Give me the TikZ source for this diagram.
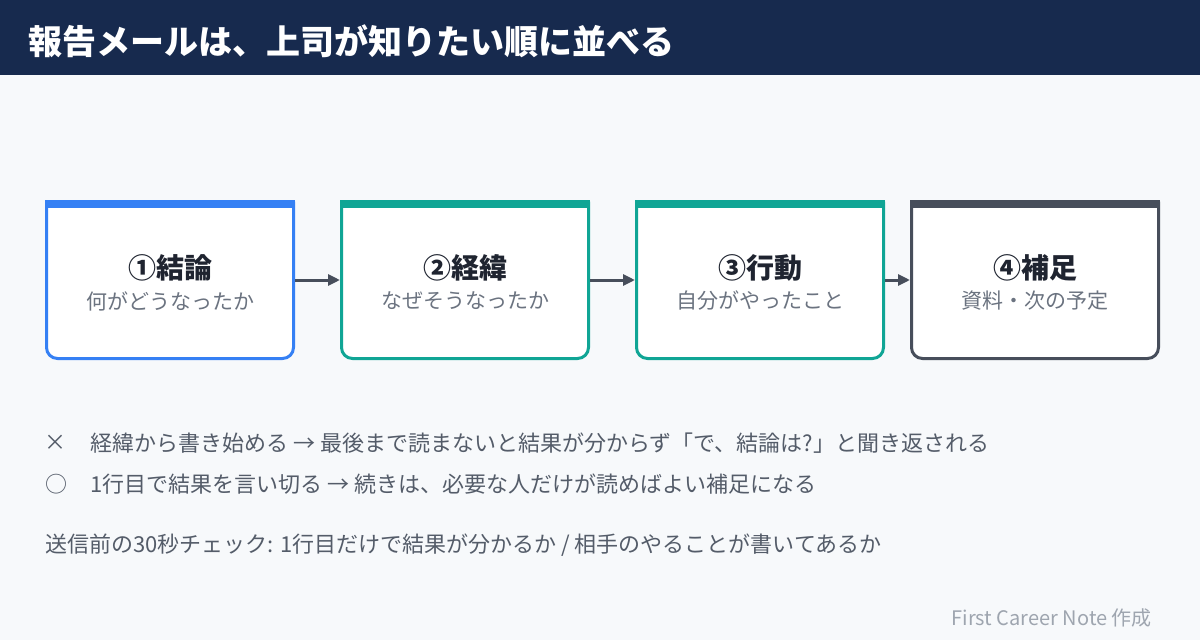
\documentclass[tikz,border=0pt]{standalone}
\usepackage{fontspec}
\setmainfont{Noto Sans CJK JP}
\usetikzlibrary{arrows.meta,calc,positioning}
\definecolor{headbg}{HTML}{172A4E}
\definecolor{pagebg}{HTML}{F7F9FB}
\definecolor{cblue}{HTML}{3580F4}
\definecolor{cteal}{HTML}{10A595}
\definecolor{cdark}{HTML}{474E5B}
\definecolor{ink}{HTML}{1F2430}
\definecolor{subink}{HTML}{6B7380}
\definecolor{bodyink}{HTML}{545C69}
\definecolor{noteink}{HTML}{9EA5AF}
\tikzset{
    mail diagram/.style = {x=1pt, y=-1pt, >={Triangle[length=12pt, width=11pt]}},
    step box/.style     = {minimum width=247pt, minimum height=157pt,
                           inner sep=0pt, outer sep=0pt},
    box line/.style     = {line width=3pt, rounded corners=11pt},
    flow/.style         = {->, line width=3pt, draw=cdark,
                           shorten <=1.5pt, shorten >=1.5pt},
    box title/.style    = {font=\fontsize{28}{32}\selectfont\bfseries, text=ink},
    box sub/.style      = {font=\fontsize{21}{25}\selectfont, text=subink},
    body/.style         = {anchor=west, inner sep=0pt,
                           font=\fontsize{22}{26}\selectfont, text=bodyink}
}
\begin{document}
\begin{tikzpicture}[mail diagram]

% Page and header band
\fill[pagebg] (0,0) rectangle (1200,640);
\useasboundingbox (0,0) rectangle (1200,640);
\fill[headbg] (0,0) rectangle (1200,75);
\node[anchor=west, inner sep=0pt, text=white,
      font=\fontsize{34}{38}\selectfont\bfseries]
    (title) at (28,41) {報告メールは、上司が知りたい順に並べる};

% Four steps, in the order the reader wants them
\node[step box] (s1) at (170,280) {};
\node[step box, right=48pt of s1] (s2) {};
\node[step box, right=48pt of s2] (s3) {};
\node[step box, right=28pt of s3] (s4) {};

\foreach \s/\c/\h/\t in {s1/cblue/①結論/何がどうなったか,
                         s2/cteal/②経緯/なぜそうなったか,
                         s3/cteal/③行動/自分がやったこと,
                         s4/cdark/④補足/資料・次の予定} {
    \draw[box line, draw=\c, fill=white]
        (\s.north west) -- (\s.south west) -- (\s.south east) -- (\s.north east);
    \fill[\c] ($(\s.north west)+(-1.5,-1.5)$) rectangle ($(\s.north east)+(1.5,6.5)$);
    \node[box title] (\s-head) at ($(\s.center)+(0,-12)$) {\h};
    \node[box sub] (\s-sub) at ($(\s.center)+(0,21)$) {\t};
}

\foreach \a/\b in {s1/s2, s2/s3, s3/s4}
    \draw[flow] (\a.east) -- (\b.west);

% Bad and good way to open the mail
\node[body, anchor=center] (ngmark) at (55,443) {×};
\node[body] (ng) at (90,443)
    {経緯から書き始める → 最後まで読まないと結果が分からず「で、結論は?」と聞き返される};
\node[body, anchor=center] (okmark) at (56,484) {○};
\node[body] (ok) at (90,484)
    {1行目で結果を言い切る → 続きは、必要な人だけが読めばよい補足になる};

% Check before sending
\node[body] (check) at (45,545)
    {送信前の30秒チェック: 1行目だけで結果が分かるか / 相手のやることが書いてあるか};

\node[anchor=east, inner sep=0pt, text=noteink,
      font=\fontsize{20}{24}\selectfont] (credit) at (1152,618)
    {First Career Note 作成};

\end{tikzpicture}
\end{document}
